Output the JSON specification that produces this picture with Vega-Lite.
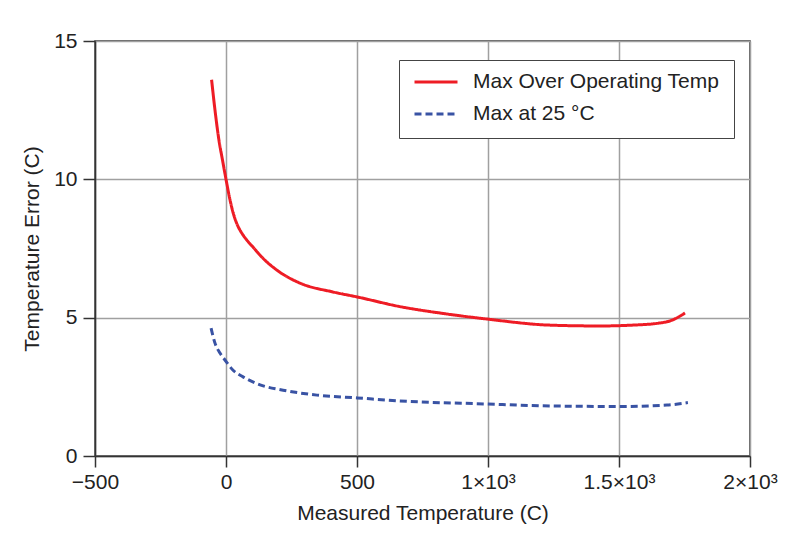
{
  "$schema": "https://vega.github.io/schema/vega-lite/v6.json",
  "autosize": {"type": "none"},
  "width": 655,
  "height": 415,
  "padding": {"left": 95, "top": 41, "right": 45, "bottom": 90},
  "background": "white",
  "config": {
    "font": "Liberation Sans",
    "view": {"stroke": "#333", "strokeWidth": 1.5},
    "axis": {
      "labelFont": "Liberation Sans",
      "titleFont": "Liberation Sans",
      "labelFontSize": 21,
      "titleFontSize": 21,
      "labelColor": "#222",
      "titleColor": "#222",
      "titleFontWeight": "normal",
      "domainColor": "#333",
      "domainWidth": 1.5,
      "tickColor": "#333",
      "tickWidth": 1.5,
      "gridColor": "#a0a0a0",
      "gridWidth": 1.5
    },
    "legend": {
      "labelFont": "Liberation Sans",
      "labelFontSize": 21,
      "labelColor": "#222",
      "labelLimit": 400
    }
  },
  "data": {
    "values": [
      {"series": "Max Over Operating Temp", "x": -55, "y": 13.6},
      {"series": "Max Over Operating Temp", "x": -42, "y": 12.5},
      {"series": "Max Over Operating Temp", "x": -27, "y": 11.42},
      {"series": "Max Over Operating Temp", "x": -13, "y": 10.68},
      {"series": "Max Over Operating Temp", "x": 1, "y": 9.95},
      {"series": "Max Over Operating Temp", "x": 15, "y": 9.27},
      {"series": "Max Over Operating Temp", "x": 30, "y": 8.7},
      {"series": "Max Over Operating Temp", "x": 45, "y": 8.32},
      {"series": "Max Over Operating Temp", "x": 60, "y": 8.06},
      {"series": "Max Over Operating Temp", "x": 80, "y": 7.8},
      {"series": "Max Over Operating Temp", "x": 104, "y": 7.54},
      {"series": "Max Over Operating Temp", "x": 142, "y": 7.14},
      {"series": "Max Over Operating Temp", "x": 200, "y": 6.68},
      {"series": "Max Over Operating Temp", "x": 282, "y": 6.25},
      {"series": "Max Over Operating Temp", "x": 408, "y": 5.93},
      {"series": "Max Over Operating Temp", "x": 500, "y": 5.75},
      {"series": "Max Over Operating Temp", "x": 664, "y": 5.4},
      {"series": "Max Over Operating Temp", "x": 830, "y": 5.15},
      {"series": "Max Over Operating Temp", "x": 996, "y": 4.95},
      {"series": "Max Over Operating Temp", "x": 1237, "y": 4.73},
      {"series": "Max Over Operating Temp", "x": 1427, "y": 4.7},
      {"series": "Max Over Operating Temp", "x": 1550, "y": 4.73},
      {"series": "Max Over Operating Temp", "x": 1650, "y": 4.8},
      {"series": "Max Over Operating Temp", "x": 1700, "y": 4.9},
      {"series": "Max Over Operating Temp", "x": 1752, "y": 5.17},
      {"series": "Max at 25 °C", "x": -57, "y": 4.62},
      {"series": "Max at 25 °C", "x": -42, "y": 4.08},
      {"series": "Max at 25 °C", "x": -23, "y": 3.72},
      {"series": "Max at 25 °C", "x": -4, "y": 3.47},
      {"series": "Max at 25 °C", "x": 27, "y": 3.1},
      {"series": "Max at 25 °C", "x": 65, "y": 2.86},
      {"series": "Max at 25 °C", "x": 130, "y": 2.57},
      {"series": "Max at 25 °C", "x": 218, "y": 2.38},
      {"series": "Max at 25 °C", "x": 347, "y": 2.2},
      {"series": "Max at 25 °C", "x": 500, "y": 2.1},
      {"series": "Max at 25 °C", "x": 664, "y": 1.99},
      {"series": "Max at 25 °C", "x": 996, "y": 1.88},
      {"series": "Max at 25 °C", "x": 1237, "y": 1.81},
      {"series": "Max at 25 °C", "x": 1500, "y": 1.79},
      {"series": "Max at 25 °C", "x": 1683, "y": 1.84},
      {"series": "Max at 25 °C", "x": 1763, "y": 1.93}
    ]
  },
  "mark": {"type": "line", "strokeWidth": 3, "interpolate": "monotone", "strokeCap": "butt"},
  "encoding": {
    "x": {
      "field": "x",
      "type": "quantitative",
      "scale": {"domain": [-500, 2000], "nice": false, "zero": false},
      "axis": {
        "values": [-500, 0, 500, 1000, 1500, 2000],
        "title": "Measured Temperature (C)",
        "tickSize": 11,
        "labelPadding": 4,
        "titlePadding": 10,
        "labelFlush": false,
        "labelExpr": "datum.value == 1000 ? '1×10³' : datum.value == 1500 ? '1.5×10³' : datum.value == 2000 ? '2×10³' : datum.label"
      }
    },
    "y": {
      "field": "y",
      "type": "quantitative",
      "scale": {"domain": [0, 15], "nice": false},
      "axis": {
        "values": [0, 5, 10, 15],
        "title": "Temperature Error (C)",
        "tickSize": 12,
        "labelPadding": 6,
        "titlePadding": 11,
        "labelFlush": false
      }
    },
    "color": {
      "field": "series",
      "type": "nominal",
      "scale": {"domain": ["Max Over Operating Temp", "Max at 25 °C"], "range": ["#ee1c25", "#3953a4"]},
      "legend": {
        "title": null,
        "orient": "none",
        "legendX": 304,
        "legendY": 19,
        "fillColor": "white",
        "strokeColor": "#444",
        "padding": 14,
        "symbolType": "stroke",
        "symbolSize": 1849,
        "symbolStrokeWidth": 3,
        "labelOffset": 14,
        "clipHeight": 16,
        "rowPadding": 11
      }
    },
    "strokeDash": {
      "field": "series",
      "type": "nominal",
      "scale": {"domain": ["Max Over Operating Temp", "Max at 25 °C"], "range": [[1, 0], [7, 4]]},
      "legend": {
        "title": null,
        "orient": "none",
        "legendX": 304,
        "legendY": 19,
        "fillColor": "white",
        "strokeColor": "#444",
        "padding": 14,
        "symbolType": "stroke",
        "symbolSize": 1849,
        "symbolStrokeWidth": 3,
        "labelOffset": 14,
        "clipHeight": 16,
        "rowPadding": 11
      }
    }
  }
}
